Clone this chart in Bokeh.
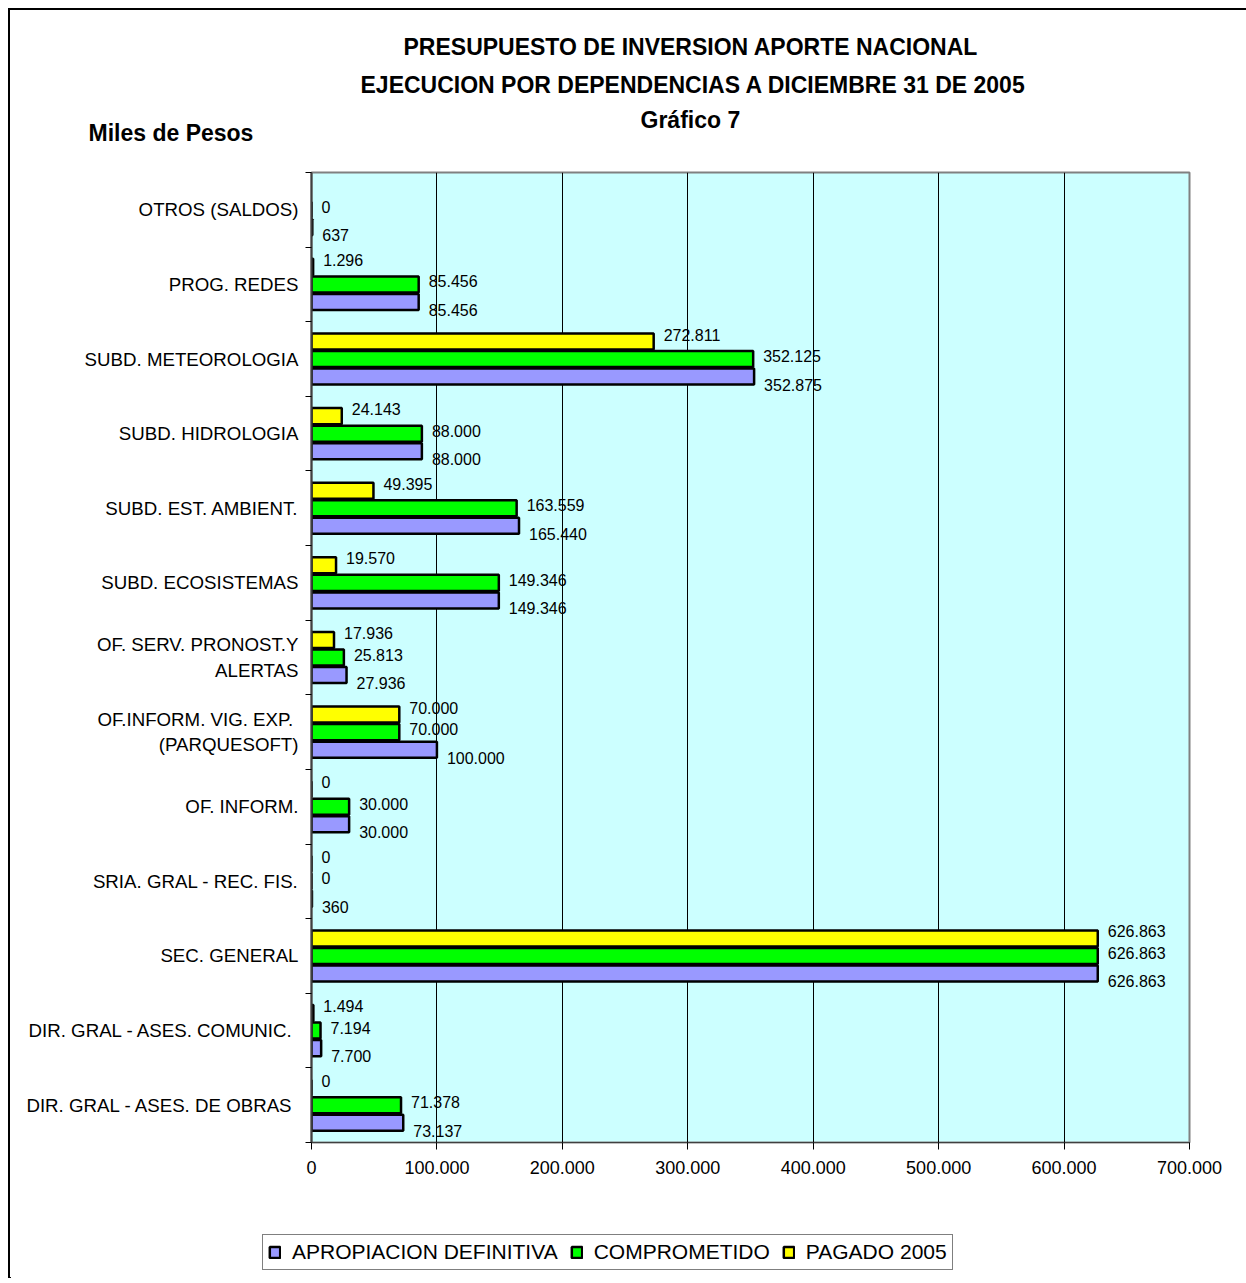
import numpy as np
from bokeh.plotting import figure
from bokeh.layouts import column
from bokeh.models import (ColumnDataSource, Range1d, FixedTicker, LabelSet, Title,
                          Legend, LegendItem)
from bokeh.core.properties import value
from bokeh.embed import file_html
from bokeh.resources import INLINE

# ---------------- data (top-to-bottom order as in the chart) ----------------
categories = [
    "OTROS (SALDOS)",
    "PROG. REDES",
    "SUBD. METEOROLOGIA",
    "SUBD. HIDROLOGIA",
    "SUBD. EST. AMBIENT.",
    "SUBD. ECOSISTEMAS",
    "OF. SERV. PRONOST.Y\nALERTAS",
    "OF.INFORM.  VIG. EXP.\n(PARQUESOFT)",
    "OF. INFORM.",
    "SRIA. GRAL - REC. FIS.",
    "SEC. GENERAL",
    "DIR. GRAL  - ASES. COMUNIC.",
    "DIR. GRAL  - ASES. DE OBRAS",
]
apropiacion = [637, 85456, 352875, 88000, 165440, 149346, 27936, 100000, 30000, 360, 626863, 7700, 73137]
comprometido = [0, 85456, 352125, 88000, 163559, 149346, 25813, 70000, 30000, 0, 626863, 7194, 71378]
pagado = [None, 1296, 272811, 24143, 49395, 19570, 17936, 70000, 0, 0, 626863, 1494, 0]

series_names = ["APROPIACION DEFINITIVA", "COMPROMETIDO", "PAGADO 2005"]
series_colors = ["#9999FF", "#00FF00", "#FFFF00"]

x_ticks = [0, 100000, 200000, 300000, 400000, 500000, 600000, 700000]
x_tick_labels = ["0", "100.000", "200.000", "300.000", "400.000", "500.000", "600.000", "700.000"]

title_main = "PRESUPUESTO DE INVERSION APORTE NACIONAL"
title_sub = "EJECUCION POR DEPENDENCIAS A DICIEMBRE 31 DE 2005"
title_graf = "Gráfico  7"
units_label = "Miles de Pesos"

FONT = "Liberation Sans"
XMAX = 700000
NCAT = len(categories)


def fmt(v):
    if v is None:
        return ""
    return f"{v:,}".replace(",", ".")


pos = np.array([NCAT - 1 - i for i in range(NCAT)], dtype=float)

# canvas origin sits at page (10, 10) because of the css margin + border
W = 1236
H_MAIN = 1192
H_LEG = 76
FL, FR, FT, FB = 301, 1179, 162, 1132   # frame edges in canvas pixels
p = figure(width=W, height=H_MAIN, output_backend="svg", toolbar_location=None,
           x_range=Range1d(0, XMAX), y_range=Range1d(-0.5, NCAT - 0.5),
           min_border_left=FL, min_border_top=FT,
           min_border_right=W - FR, min_border_bottom=H_MAIN - FB)
p.title.text = ""

p.background_fill_color = "#CCFFFF"
p.border_fill_color = "white"
p.outline_line_color = "#808080"
p.outline_line_width = 2

bar_h = 0.215
offsets = [-0.235, 0.0, 0.235]
label_yoff = [-8, 3, 7]
series_vals = [apropiacion, comprometido, pagado]
sources = []

for vals, name, col, off, lyo in zip(series_vals, series_names, series_colors, offsets, label_yoff):
    right = np.array([np.nan if v is None else v for v in vals], dtype=float)
    src = ColumnDataSource(dict(y=pos + off, right=right, left=np.zeros(NCAT),
                                x=np.nan_to_num(right), text=[fmt(v) for v in vals]))
    sources.append(src)
    p.hbar(y="y", left="left", right="right", height=bar_h, source=src,
           fill_color=col, line_color="black", line_width=2.5)
    ls = LabelSet(x="x", y="y", text="text", source=src, x_offset=10, y_offset=lyo,
                  text_font=value(FONT), text_font_size=value("16px"), text_color="black",
                  text_baseline="middle", text_align="left")
    p.add_layout(ls)

# ---------------- axes ----------------
xa = p.xaxis[0]
xa.ticker = FixedTicker(ticks=x_ticks)
xa.major_label_overrides = {t: l for t, l in zip(x_ticks, x_tick_labels)}
xa.major_label_text_font = FONT
xa.major_label_text_font_size = "18px"
xa.major_label_text_color = "black"
xa.major_tick_out = 7
xa.major_tick_in = 0
xa.minor_tick_line_color = None
xa.axis_line_color = "#404040"
xa.axis_line_width = 1
xa.major_tick_line_color = "black"
xa.major_label_standoff = 11

ya = p.yaxis[0]
ya.ticker = FixedTicker(ticks=list(pos), minor_ticks=[i - 0.5 for i in range(NCAT + 1)])
ya.major_label_overrides = {float(pp): c for pp, c in zip(pos, categories)}
ya.major_label_text_font = FONT
ya.major_label_text_font_size = "18.7px"
ya.major_label_text_color = "black"
ya.major_tick_out = 0
ya.major_tick_in = 0
ya.minor_tick_out = 6
ya.minor_tick_in = 0
ya.minor_tick_line_color = "black"
ya.axis_line_color = "#404040"
ya.axis_line_width = 2
ya.major_label_standoff = 7

p.xgrid.ticker = FixedTicker(ticks=x_ticks)
p.xgrid.grid_line_color = "black"
p.xgrid.grid_line_width = 1
p.ygrid.grid_line_color = None

# ---------------- titles (stacked side panels, nearest to the frame first) ----------------
tstyle = dict(text_font=FONT, text_font_size="23px", text_font_style="bold",
              text_color="black", vertical_align="middle", align="left")
p.add_layout(Title(text=" ", standoff=5, **tstyle), "above")                 # spacer
p.add_layout(Title(text=units_label, standoff=-15, offset=-223, **tstyle), "above")
p.add_layout(Title(text=title_graf, standoff=-15, offset=329, **tstyle), "above")
p.add_layout(Title(text=title_sub, standoff=30, offset=49, **tstyle), "above")
p.add_layout(Title(text=title_main, standoff=-10, offset=92, **tstyle), "above")

# ---------------- legend strip (own small canvas below the chart) ----------------
pl = figure(width=W, height=H_LEG, output_backend="svg", toolbar_location=None,
            x_range=Range1d(2 * XMAX * 2, 3 * XMAX * 2), y_range=Range1d(1000, 1001),
            x_axis_type=None, y_axis_type=None, min_border=0)
pl.frame_align = False
pl.title.text = ""
pl.grid.visible = False
pl.outline_line_color = None
pl.background_fill_color = "white"
pl.border_fill_color = "white"
leg_renderers = []
for src, col in zip(sources, series_colors):
    # same series, placed outside this strip's ranges: only their legend swatches show
    leg_renderers.append(pl.hbar(y="y", left="left", right="right", height=bar_h, source=src,
                                 fill_color=col, line_color="black", line_width=2.5))
legend = Legend(items=[LegendItem(label=n, renderers=[r]) for n, r in zip(series_names, leg_renderers)],
                orientation="horizontal", location=(252, 8),
                label_text_font=FONT, label_text_font_size="21px", label_text_color="black",
                glyph_width=13, glyph_height=14, label_standoff=11, spacing=12, padding=5,
                margin=0, border_line_color="black", border_line_width=1,
                background_fill_color="white", background_fill_alpha=1)
pl.add_layout(legend, "center")

layout = column(p, pl, spacing=0,
                styles={"margin-left": "8px", "margin-top": "8px",
                        "border-left": "2px solid black", "border-top": "2px solid black"})

open("out.html", "w").write(file_html(layout, INLINE))
